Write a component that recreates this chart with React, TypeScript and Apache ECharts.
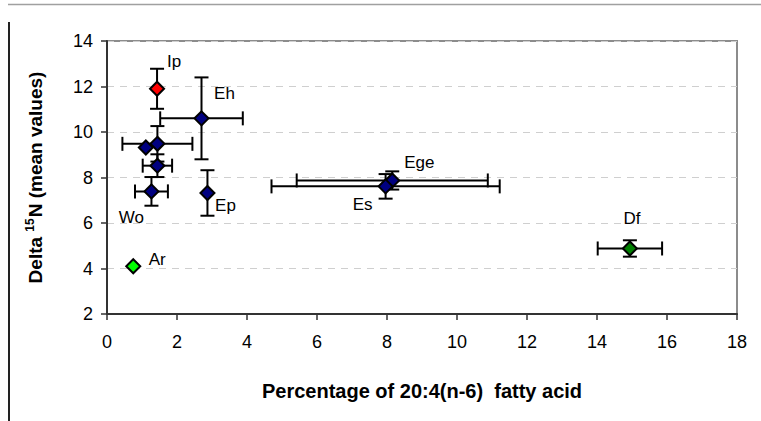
import React, { useEffect, useRef } from "react";
import * as echarts from "echarts";

const names = ["Ip", "Eh", "", "", "", "Wo", "Ep", "Ar", "Ege", "Es", "Df"];
const xValues = [1.43, 2.7, 1.44, 1.11, 1.44, 1.27, 2.87, 0.75, 8.15, 7.96, 14.94];
const yValues = [11.9, 10.6, 9.48, 9.32, 8.52, 7.39, 7.32, 4.1, 7.87, 7.61, 4.88];
const xErrors = [0, 1.18, 1.0, 0, 0.42, 0.47, 0, 0, 2.73, 3.26, 0.92];
const yErrors = [0.88, 1.8, 0.78, 0, 0.5, 0.63, 1.0, 0, 0.4, 0.54, 0.36];
const xTicks = [0, 2, 4, 6, 8, 10, 12, 14, 16, 18];
const yTicks = [2, 4, 6, 8, 10, 12, 14];

const NAVY = "#000080";
const markerColors: Record<string, string> = {
  Ip: "#ff0000",
  Ar: "#00ff00",
  Df: "#008000",
};
const labelOffsets: Record<string, [number, number]> = {
  Ip: [17, -27],
  Eh: [23, -25],
  Wo: [-20, 26],
  Ep: [18, 13],
  Ar: [24, -7],
  Ege: [27, -18],
  Es: [-23, 18],
  Df: [2, -30],
};

const FONT = "'Liberation Sans', Arial, sans-serif";

export default function App() {
  const ref = useRef<HTMLDivElement>(null);
  useEffect(() => {
    if (!ref.current) return;
    const chart = echarts.init(ref.current, null, { renderer: "svg" });

    const errData = xValues.map((x, i) => [x, yValues[i], xErrors[i], yErrors[i]]);
    const pointData = xValues.map((x, i) => {
      const n = names[i];
      const off = labelOffsets[n] || [0, 0];
      return {
        value: [x, yValues[i]],
        name: n,
        itemStyle: { color: markerColors[n] || NAVY },
        label: {
          show: n !== "",
          formatter: n,
          position: "inside",
          offset: off,
          align: "center",
          verticalAlign: "middle",
        },
      };
    });

    const cap = 7;
    chart.setOption({
      animation: false,
      textStyle: { fontFamily: FONT },
      grid: {
        left: 107,
        top: 41,
        right: 24,
        bottom: 107,
        show: true,
        borderColor: "#8c8c8c",
        borderWidth: 2,
        backgroundColor: "transparent",
      },
      xAxis: {
        type: "value",
        min: xTicks[0],
        max: xTicks[xTicks.length - 1],
        interval: 2,
        name: "Percentage of 20:4(n-6)  fatty acid",
        nameLocation: "middle",
        nameGap: 67,
        nameTextStyle: { fontFamily: FONT, fontSize: 20, fontWeight: "bold", color: "#000" },
        axisLine: { show: true, onZero: false, lineStyle: { color: "#333", width: 2 } },
        axisTick: { show: true, inside: false, length: 6, lineStyle: { color: "#333", width: 1.5 } },
        axisLabel: { fontFamily: FONT, fontSize: 18, color: "#000", margin: 19 },
        splitLine: { show: false },
      },
      yAxis: {
        type: "value",
        min: yTicks[0],
        max: yTicks[yTicks.length - 1],
        interval: 2,
        name: "{a|Delta }{s|15}{a|N (mean values)}",
        nameLocation: "middle",
        nameGap: 61,
        nameRotate: 90,
        nameTextStyle: {
          fontFamily: FONT,
          fontSize: 19,
          fontWeight: "bold",
          color: "#000",
          rich: {
            a: { fontFamily: FONT, fontSize: 19, fontWeight: "bold", color: "#000", lineHeight: 22 },
            s: {
              fontFamily: FONT,
              fontSize: 12,
              fontWeight: "bold",
              color: "#000",
              lineHeight: 22,
              verticalAlign: "top",
              padding: [0, 1, 6, 0],
            },
          },
        },
        axisLine: { show: true, onZero: false, lineStyle: { color: "#333", width: 2 } },
        axisTick: { show: true, inside: false, length: 6, lineStyle: { color: "#333", width: 1.5 } },
        axisLabel: { fontFamily: FONT, fontSize: 18, color: "#000", margin: 14 },
        splitLine: {
          show: true,
          lineStyle: { color: "#cfcfcf", type: [7, 6], width: 1.2 },
        },
      },
      graphic: [
        {
          type: "line",
          shape: { x1: 8, y1: 4.5, x2: 761, y2: 4.5 },
          style: { stroke: "#a0a0a0", lineWidth: 1.5 },
          silent: true,
        },
        {
          type: "line",
          shape: { x1: 9, y1: 22, x2: 9, y2: 421 },
          style: { stroke: "#222", lineWidth: 2 },
          silent: true,
        },
      ],
      series: [
        {
          type: "custom",
          z: 2,
          data: errData,
          renderItem: (params: any, api: any) => {
            const x = api.value(0);
            const y = api.value(1);
            const xe = api.value(2);
            const ye = api.value(3);
            const children: any[] = [];
            const st = { stroke: "#000", lineWidth: 2 };
            if (xe > 0) {
              const l = api.coord([x - xe, y]);
              const r = api.coord([x + xe, y]);
              children.push({ type: "line", shape: { x1: l[0], y1: l[1], x2: r[0], y2: r[1] }, style: st });
              children.push({ type: "line", shape: { x1: l[0], y1: l[1] - cap, x2: l[0], y2: l[1] + cap }, style: st });
              children.push({ type: "line", shape: { x1: r[0], y1: r[1] - cap, x2: r[0], y2: r[1] + cap }, style: st });
            }
            if (ye > 0) {
              const t = api.coord([x, y + ye]);
              const b = api.coord([x, y - ye]);
              children.push({ type: "line", shape: { x1: t[0], y1: t[1], x2: b[0], y2: b[1] }, style: st });
              children.push({ type: "line", shape: { x1: t[0] - cap, y1: t[1], x2: t[0] + cap, y2: t[1] }, style: st });
              children.push({ type: "line", shape: { x1: b[0] - cap, y1: b[1], x2: b[0] + cap, y2: b[1] }, style: st });
            }
            return { type: "group", children };
          },
        },
        {
          type: "scatter",
          z: 3,
          symbol: "diamond",
          symbolSize: 14,
          itemStyle: { borderColor: "#000", borderWidth: 2, opacity: 1 },
          label: { fontFamily: FONT, fontSize: 17, color: "#000" },
          data: pointData,
        },
      ],
    });
    return () => chart.dispose();
  }, []);
  return <div ref={ref} style={{ width: 761, height: 421, position: "absolute", left: 0, top: 0, background: "#fff" }} />;
}
